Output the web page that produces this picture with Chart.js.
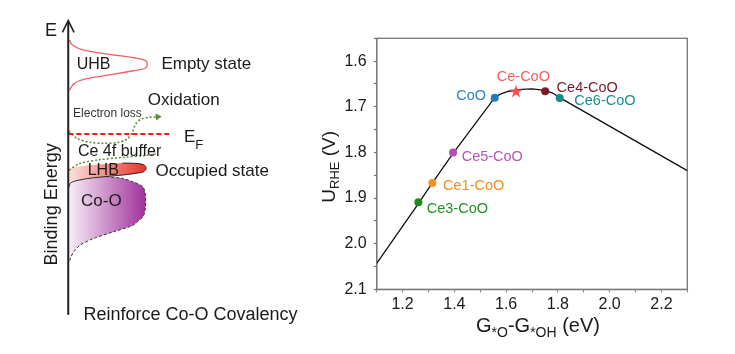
<!DOCTYPE html>
<html><head><meta charset="utf-8">
<script src="https://cdn.jsdelivr.net/npm/chart.js@4.4.1/dist/chart.umd.min.js"></script>
<style>
html,body{margin:0;padding:0;background:#fff;}
#wrap{position:relative;width:735px;height:354px;overflow:hidden;}
#left{position:absolute;left:0;top:0;}
#right{position:absolute;left:300px;top:0;}
</style></head><body>
<div id="wrap">
<canvas id="left" width="300" height="354"></canvas>
<canvas id="right" width="435" height="354"></canvas>
</div>
<script>
// ---------- volcano plot data ----------
const catalysts = ['CoO','Ce-CoO','Ce4-CoO','Ce6-CoO','Ce5-CoO','Ce1-CoO','Ce3-CoO'];
const deltaG   = [1.556, 1.638, 1.751, 1.807, 1.395, 1.315, 1.261];
const onsetU   = [1.680, 1.666, 1.666, 1.681, 1.800, 1.867, 1.909];
const volcanoX = [1.10, 1.261, 1.315, 1.395, 1.556, 1.575, 1.61, 1.66, 1.70, 1.75, 1.78, 1.807, 2.30];
const volcanoU = [2.043, 1.912, 1.867, 1.802, 1.680, 1.673, 1.666, 1.662, 1.661, 1.664, 1.670, 1.680, 1.840];
const xTickLabels = ['1.2','1.4','1.6','1.8','2.0','2.2'];
const yTickLabels = ['1.6','1.7','1.8','1.9','2.0','2.1'];

// ---------- schematic (density of states vs energy, E_F = 0) ----------
const uhbDos = [0.13,0.4,1.4,4.4,6.73,7.9,8.13,7.9,6.73,4.4,1.73,0.57,0.13];
const uhbE   = [9.63,9.13,8.63,8.13,7.8,7.53,7.13,6.73,6.47,6.07,5.63,5.13,4.47];
const lhbDos = [0,0.6,2.23,5.57,7.23,7.83,8.0,7.73,6.9,5.57,3.9,2.23,0.9,0.23,0.05,0];
const lhbE   = [-3.6,-3.4,-3.2,-2.97,-3.03,-3.2,-3.53,-3.87,-4.03,-4.2,-4.35,-4.53,-4.77,-5.03,-5.5,-5.5];
const cooDos = [0,0.23,0.9,2.23,3.9,5.57,6.57,7.63,7.9,7.95,7.9,7.73,7.2,6.57,4.57,2.57,1.23,0.57,0.23,0.1,0];
const cooE   = [-5.7,-5.15,-4.85,-4.6,-4.35,-4.55,-4.87,-5.37,-6.03,-7.0,-7.7,-8.37,-8.9,-9.37,-10.03,-10.7,-11.37,-12.03,-12.7,-13.1,-13.1];
const lossDos = [0.07,0.9,2.2,3.6,5.2,6.07,6.57,6.9,7.4,8.23,9.0];
const lossE   = [0.3,-0.45,-0.85,-0.95,-0.85,-0.5,0.13,0.97,1.47,1.7,1.73];
const bufDos = [0.1,1.1,3.1,5.6,7.9,9.0];
const bufE   = [-3.7,-3.05,-2.65,-2.4,-2.2,-2.05];
const fermiDos = [0, 10.6];
const axisE = [-18.5, 11.5];

const FONT = "'Liberation Sans', Arial, Helvetica, sans-serif";
const TXT = '#1a1a1a';
Chart.defaults.font.family = FONT;

const pts = (xs, ys) => xs.map((x, i) => ({x, y: ys[i]}));

function grad(ctx, c0, c1) {
  const ch = ctx.chart;
  const xs = ch.scales && ch.scales.x;
  if (!xs || !ch.chartArea) return c1;
  const g = ch.ctx.createLinearGradient(xs.getPixelForValue(0), 0, xs.getPixelForValue(8), 0);
  g.addColorStop(0, c0);
  g.addColorStop(1, c1);
  return g;
}

const schematicLabels = [
  {t:'UHB', x:2.6, y:7.1, s:16, a:'center'},
  {t:'Empty state', x:9.57, y:7.1, s:17, a:'left'},
  {t:'Oxidation', x:8.17, y:3.4, s:17, a:'left'},
  {t:'Electron loss', x:0.5, y:2.07, s:12, a:'left', c:'#333'},
  {t:'Ce 4f buffer', x:1.0, y:-1.77, s:16, a:'left'},
  {t:'LHB', x:3.6, y:-3.77, s:16, a:'center'},
  {t:'Occupied state', x:8.97, y:-3.77, s:17, a:'left'},
  {t:'Co-O', x:3.4, y:-6.93, s:17, a:'center'},
  {t:'Reinforce Co-O Covalency', x:1.57, y:-18.53, s:18, a:'left'},
  {t:'E', x:-1.77, y:10.5, s:18, a:'center'}
];

const leftText = {
  id: 'leftText',
  afterDatasetsDraw(chart) {
    const c = chart.ctx, xs = chart.scales.x, ys = chart.scales.y;
    c.save();
    c.textBaseline = 'middle';
    schematicLabels.forEach(l => {
      c.font = l.s + 'px ' + FONT;
      c.fillStyle = l.c || TXT;
      c.textAlign = l.a;
      c.fillText(l.t, xs.getPixelForValue(l.x), ys.getPixelForValue(l.y));
    });
    // E_F
    c.fillStyle = TXT;
    c.textBaseline = 'alphabetic';
    c.textAlign = 'left';
    c.font = '17px ' + FONT;
    c.fillText('E', xs.getPixelForValue(11.9), ys.getPixelForValue(-0.87));
    c.font = '13px ' + FONT;
    c.fillText('F', xs.getPixelForValue(13.05), ys.getPixelForValue(-1.53));
    // Binding Energy (rotated)
    c.translate(xs.getPixelForValue(-1.67), ys.getPixelForValue(-7.2));
    c.rotate(-Math.PI / 2);
    c.textAlign = 'center';
    c.textBaseline = 'middle';
    c.font = '18px ' + FONT;
    c.fillText('Binding Energy', 0, 0);
    c.restore();
  }
};

const green = '#5b8c3a';
new Chart(document.getElementById('left'), {
  type: 'scatter',
  data: {datasets: [
    {data: pts([0,0], axisE), showLine:true, borderColor:'#222', borderWidth:2, pointRadius:0},
    {data: pts([-0.6,0,0.6],[10.4,11.6,10.4]), showLine:true, borderColor:'#222', borderWidth:1.6, pointRadius:0},
    {data: pts(fermiDos,[0,0]), showLine:true, borderColor:'#e82020', borderWidth:1.8, borderDash:[5,3], pointRadius:0},
    {data: pts(lossDos, lossE), showLine:true, borderColor:green, borderWidth:1.6, borderDash:[2,2], pointRadius:0, tension:0.3},
    {data: [{x:9.2,y:1.76}], pointStyle:'triangle', rotation:85, pointRadius:4, backgroundColor:green, borderColor:green, borderWidth:0},
    {data: pts(bufDos, bufE), showLine:true, borderColor:green, borderWidth:1.5, borderDash:[2,2], pointRadius:0, tension:0.3},
    {data: pts(uhbDos, uhbE), showLine:true, borderColor:'#f0606a', borderWidth:1.3, pointRadius:0, tension:0.35},
    // LHB outline + fill
    {data: pts(lhbDos.slice(3, 15), lhbE.slice(3, 15)), showLine:true, borderColor:'#222', borderWidth:1, pointRadius:0, tension:0.3},
    {data: pts(lhbDos, lhbE), showLine:true, fill:'shape', pointRadius:0, tension:0.3, borderWidth:0,
      borderColor:'rgba(0,0,0,0)',
      backgroundColor: ctx => grad(ctx, '#fbe4e0', '#e8332a')},
    // Co-O outline + fill
    {data: pts(cooDos.slice(4, 20), cooE.slice(4, 20)), showLine:true, borderColor:'#333', borderWidth:1, borderDash:[3,2], pointRadius:0, tension:0.3},
    {data: pts(cooDos, cooE), showLine:true, fill:'shape', pointRadius:0, tension:0.3, borderWidth:0,
      borderColor:'rgba(0,0,0,0)',
      backgroundColor: ctx => grad(ctx, '#f8f0f8', '#a0309a')}
  ]},
  options: {
    responsive:false, animation:false, events:[],
    layout:{padding:0},
    plugins:{legend:{display:false}, tooltip:{enabled:false}},
    scales:{
      x:{type:'linear', display:false, min:-6.6, max:23.4},
      y:{type:'linear', display:false, min:-22.1, max:13.3}
    }
  },
  plugins:[leftText]
});

// ---------- volcano plot ----------
const pointColors = ['#1f7ec1','#f2504b','#7b1a26','#178a8a','#b34fb3','#f7901e','#1b8a1b'];
const labelColors = ['#2a83c6','#f06060','#7b1a26','#1a8f8f','#b455b4','#f08c1c','#209020'];
const labelStyle = [
  {dx:-8.6, dy:-1.6, a:'right'},
  {dx:7.4, dy:-14, a:'center'},
  {dx:11.4, dy:-3.4, a:'left'},
  {dx:14.6, dy:3, a:'left'},
  {dx:8.6, dy:5, a:'left'},
  {dx:10.7, dy:2.7, a:'left'},
  {dx:8.4, dy:7, a:'left'}
];

function makeStar(color, R, r) {
  const cv = document.createElement('canvas');
  const s = Math.ceil(R * 2 + 2);
  cv.width = s; cv.height = s;
  const c = cv.getContext('2d');
  c.translate(s / 2, s / 2 + 0.5);
  c.beginPath();
  for (let i = 0; i < 10; i++) {
    const rad = i % 2 ? r : R;
    const ang = -Math.PI / 2 + i * Math.PI / 5;
    c.lineTo(rad * Math.cos(ang), rad * Math.sin(ang));
  }
  c.closePath();
  c.fillStyle = color;
  c.fill();
  return cv;
}
const star = makeStar('#f2504b', 6.8, 2.8);

const rightDeco = {
  id: 'rightDeco',
  beforeDatasetsDraw(chart) {
    const c = chart.ctx, a = chart.chartArea;
    c.save();
    c.strokeStyle = '#777';
    c.lineWidth = 1.3;
    c.strokeRect(a.left, a.top, a.right - a.left, a.bottom - a.top);
    c.restore();
  },
  afterDatasetsDraw(chart) {
    const c = chart.ctx, a = chart.chartArea;
    const meta = chart.getDatasetMeta(1);
    c.save();
    c.font = '14.5px ' + FONT;
    c.textBaseline = 'middle';
    catalysts.forEach((name, i) => {
      const el = meta.data[i];
      const st = labelStyle[i];
      c.fillStyle = labelColors[i];
      c.textAlign = st.a;
      c.fillText(name, el.x + st.dx, el.y + st.dy);
    });
    // x title
    const main = '20px ' + FONT, sub = '14px ' + FONT;
    const xs = [['G',main,0],['*O',sub,5],['-G',main,0],['*OH',sub,5],[' (eV)',main,0]];
    c.textBaseline = 'alphabetic';
    c.textAlign = 'left';
    let w = 0;
    xs.forEach(s => { c.font = s[1]; w += c.measureText(s[0]).width; });
    let x = (a.left + a.right) / 2 + 6 - w / 2;
    const by = 331.7;
    xs.forEach(s => { c.font = s[1]; c.fillStyle = TXT; c.fillText(s[0], x, by + s[2]); x += c.measureText(s[0]).width; });
    // y title
    const ysg = [['U','19px ' + FONT,0],['RHE','13px ' + FONT,4],[' (V)','19px ' + FONT,0]];
    w = 0;
    ysg.forEach(s => { c.font = s[1]; w += c.measureText(s[0]).width; });
    c.translate(34.5, (a.top + a.bottom) / 2 + 3);
    c.rotate(-Math.PI / 2);
    x = -w / 2;
    ysg.forEach(s => { c.font = s[1]; c.fillText(s[0], x, s[2]); x += c.measureText(s[0]).width; });
    c.restore();
  }
};

const isTenth = v => Math.abs(v * 10 - Math.round(v * 10)) < 1e-6;

new Chart(document.getElementById('right'), {
  type: 'scatter',
  data: {datasets: [
    {data: pts(volcanoX, volcanoU), showLine:true, borderColor:'#111', borderWidth:1.3, pointRadius:0, tension:0, order:2},
    {data: pts(deltaG, onsetU), showLine:false, order:1,
      pointStyle: catalysts.map((n, i) => i === 1 ? star : 'circle'),
      pointRadius: catalysts.map((n, i) => i === 1 ? 7 : 4),
      backgroundColor: pointColors, borderColor: pointColors, borderWidth: 0}
  ]},
  options: {
    responsive:false, animation:false, events:[],
    layout:{padding:{left:0, right:47.7, top:38.3, bottom:0}},
    plugins:{legend:{display:false}, tooltip:{enabled:false}},
    scales:{
      x:{type:'linear', min:1.1, max:2.3,
        afterFit: s => { s.height = 64.7; },
        border:{display:true, color:'#777', width:1.3},
        grid:{drawOnChartArea:false, drawTicks:true, tickLength:3, color:'#777', tickWidth:1.2},
        ticks:{stepSize:0.1, autoSkip:false, maxRotation:0, padding:3, color:TXT, font:{size:16},
          callback: v => { const s = v.toFixed(1); return (isTenth(v) && xTickLabels.includes(s)) ? s : ''; }}
      },
      y:{type:'linear', reverse:true, min:1.55, max:2.1,
        afterFit: s => { s.width = 76.7; },
        border:{display:true, color:'#777', width:1.3},
        grid:{drawOnChartArea:false, drawTicks:true, tickLength:3, color:'#777', tickWidth:1.2},
        ticks:{stepSize:0.05, autoSkip:false, padding:7, color:TXT, font:{size:16},
          callback: v => { const s = v.toFixed(1); return (isTenth(v) && yTickLabels.includes(s)) ? s : ''; }}
      }
    }
  },
  plugins:[rightDeco]
});
</script>
</body></html>
